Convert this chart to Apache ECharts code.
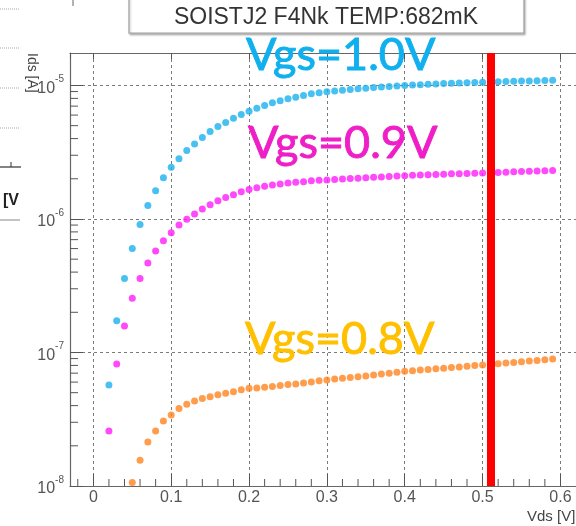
<!DOCTYPE html>
<html>
<head>
<meta charset="utf-8">
<script src="https://cdn.jsdelivr.net/npm/echarts@6.0.0/dist/echarts.min.js"></script>
<style>
  html, body { margin: 0; padding: 0; background: #fff; }
  #chart { width: 576px; height: 526px; }
</style>
</head>
<body>
<div id="chart"></div>
<script>
// Vds sweep [V]
const vds = [0.02, 0.03, 0.04, 0.05, 0.06, 0.07, 0.08, 0.09, 0.10,
  0.11, 0.12, 0.13, 0.14, 0.15, 0.16, 0.17, 0.18, 0.19, 0.20,
  0.21, 0.22, 0.23, 0.24, 0.25, 0.26, 0.27, 0.28, 0.29, 0.30,
  0.31, 0.32, 0.33, 0.34, 0.35, 0.36, 0.37, 0.38, 0.39, 0.40,
  0.41, 0.42, 0.43, 0.44, 0.45, 0.46, 0.47, 0.48, 0.49, 0.50,
  0.51, 0.52, 0.53, 0.54, 0.55, 0.56, 0.57, 0.58, 0.59]

// Ids [A] for each Vgs
const idsVgs10 = [5.7e-8, 1.73e-7, 3.58e-7, 6.0e-7, 9.1e-7, 1.26e-6, 1.63e-6, 2.04e-6, 2.44e-6,
  2.83e-6, 3.25e-6, 3.65e-6, 4.07e-6, 4.52e-6, 4.92e-6, 5.27e-6, 5.69e-6, 6.06e-6, 6.41e-6,
  6.76e-6, 7.08e-6, 7.41e-6, 7.67e-6, 7.94e-6, 8.17e-6, 8.41e-6, 8.67e-6, 8.82e-6, 8.98e-6,
  9.08e-6, 9.2e-6, 9.32e-6, 9.43e-6, 9.54e-6, 9.64e-6, 9.74e-6, 9.83e-6, 9.92e-6, 1.0e-5,
  1.007e-5, 1.014e-5, 1.02e-5, 1.026e-5, 1.032e-5, 1.038e-5, 1.043e-5, 1.048e-5, 1.053e-5, 1.058e-5,
  1.062e-5, 1.066e-5, 1.07e-5, 1.074e-5, 1.078e-5, 1.082e-5, 1.086e-5, 1.09e-5, 1.094e-5]

const idsVgs09 = [2.58e-8, 8.2e-8, 1.58e-7, 2.55e-7, 3.58e-7, 4.68e-7, 5.75e-7, 6.87e-7, 7.89e-7,
  9.0e-7, 9.93e-7, 1.09e-6, 1.19e-6, 1.28e-6, 1.37e-6, 1.45e-6, 1.52e-6, 1.60e-6, 1.66e-6,
  1.71e-6, 1.76e-6, 1.80e-6, 1.83e-6, 1.86e-6, 1.88e-6, 1.90e-6, 1.93e-6, 1.95e-6, 1.96e-6,
  1.972e-6, 1.989e-6, 2.006e-6, 2.02e-6, 2.034e-6, 2.052e-6, 2.066e-6, 2.08e-6, 2.095e-6, 2.11e-6,
  2.121e-6, 2.132e-6, 2.143e-6, 2.154e-6, 2.165e-6, 2.177e-6, 2.185e-6, 2.192e-6, 2.2e-6, 2.208e-6,
  2.219e-6, 2.231e-6, 2.242e-6, 2.254e-6, 2.265e-6, 2.277e-6, 2.289e-6, 2.297e-6, 2.305e-6]

const idsVgs08 = [null, null, null, 1.06e-8, 1.56e-8, 2.14e-8, 2.58e-8, 3.07e-8, 3.40e-8,
  3.8e-8, 4.09e-8, 4.34e-8, 4.52e-8, 4.67e-8, 4.83e-8, 4.95e-8, 5.07e-8, 5.25e-8, 5.4e-8,
  5.43e-8, 5.5e-8, 5.55e-8, 5.65e-8, 5.75e-8, 5.81e-8, 5.91e-8, 6.02e-8, 6.13e-8, 6.23e-8,
  6.33e-8, 6.41e-8, 6.5e-8, 6.58e-8, 6.67e-8, 6.79e-8, 6.89e-8, 6.99e-8, 7.11e-8, 7.24e-8,
  7.31e-8, 7.39e-8, 7.46e-8, 7.54e-8, 7.62e-8, 7.72e-8, 7.8e-8, 7.89e-8, 7.99e-8, 8.07e-8,
  8.15e-8, 8.24e-8, 8.33e-8, 8.43e-8, 8.53e-8, 8.62e-8, 8.72e-8, 8.83e-8, 8.92e-8]

const seriesNames = ['Vgs=1.0V', 'Vgs=0.9V', 'Vgs=0.8V']
const cutVds = 0.505

// axis ranges
const xMin = -0.03
const xMax = 0.62
const yMin = 1e-8
const yMax = 1.75e-5

// minor ticks (ROOT style)
const xMinorTicks = [-0.02, 0.02, 0.04, 0.06, 0.08, 0.12, 0.14, 0.16, 0.18, 0.22, 0.24, 0.26, 0.28,
  0.32, 0.34, 0.36, 0.38, 0.42, 0.44, 0.46, 0.48, 0.52, 0.54, 0.56, 0.58]
const yMinorTicks = []
for (let e = -8; e <= -5; e++) {
  for (let k = 2; k <= 9; k++) {
    const v = k * Math.pow(10, e)
    if (v < yMax) yMinorTicks.push(v)
  }
}

const chart = echarts.init(document.getElementById('chart'), null, { renderer: 'canvas' })

function pairs (ys) {
  const out = []
  ys.forEach((y, i) => {
    if (y !== null) out.push([vds[i], y])
  })
  return out
}

const gridLine = { color: '#7a7a7a', width: 1, type: [3, 3] }
const labelFont = 'Liberation Sans, Arial, sans-serif'
const vgsFont = 'Lato, "Open Sans", sans-serif'

function vgsText (x, y, text, color) {
  return {
    type: 'text',
    x: x,
    y: y,
    z: 10,
    style: {
      text: text,
      fontSize: 45,
      fontFamily: vgsFont,
      fill: color,
      stroke: color,
      lineWidth: 0.9,
      align: 'left',
      verticalAlign: 'middle'
    }
  }
}

const option = {
  animation: false,
  backgroundColor: '#fff',
  grid: { left: 70, top: 53, right: -6, bottom: 40, containLabel: false },
  xAxis: [
    {
      type: 'value',
      position: 'bottom',
      min: xMin,
      max: xMax,
      axisLine: { onZero: false, lineStyle: { color: '#666', width: 1.2 } },
      axisTick: { inside: true, length: 12, lineStyle: { color: '#555' } },
      axisLabel: {
        showMinLabel: false,
        showMaxLabel: false,
        margin: 4,
        fontSize: 16,
        color: '#555',
        fontFamily: labelFont,
        formatter: v => (Math.abs(v) < 1e-9 ? '0' : v.toFixed(1))
      },
      splitLine: { show: true, lineStyle: gridLine }
    },
    {
      type: 'value',
      position: 'top',
      min: xMin,
      max: xMax,
      axisLine: { onZero: false, lineStyle: { color: '#666', width: 1.2 } },
      axisTick: { inside: true, length: 6, lineStyle: { color: '#555' } },
      axisLabel: { show: false },
      splitLine: { show: false }
    }
  ],
  yAxis: {
    type: 'log',
    logBase: 10,
    min: yMin,
    max: yMax,
    axisLine: { show: true, onZero: false, lineStyle: { color: '#666', width: 1.2 } },
    axisTick: { show: true, inside: true, length: 13, lineStyle: { color: '#555' } },
    axisLabel: {
      showMaxLabel: false,
      margin: 6,
      formatter: v => '{b|10}{s|' + Math.round(Math.log10(v)) + '}',
      rich: {
        b: { fontSize: 16, color: '#555', fontFamily: labelFont, verticalAlign: 'bottom', padding: [6, 0, 0, 0] },
        s: { fontSize: 10, color: '#555', fontFamily: labelFont, verticalAlign: 'top' }
      }
    },
    splitLine: { show: true, lineStyle: gridLine }
  },
  series: [
    {
      name: 'yMinorTicks',
      type: 'custom',
      silent: true,
      z: 1,
      data: yMinorTicks.map(v => [xMin, v]),
      renderItem: (params, api) => {
        const p = api.coord([api.value(0), api.value(1)])
        return {
          type: 'line',
          shape: { x1: p[0], y1: p[1], x2: p[0] + 8, y2: p[1] },
          style: { stroke: '#555', lineWidth: 1 }
        }
      }
    },
    {
      name: 'xMinorTicks',
      type: 'custom',
      silent: true,
      z: 1,
      data: xMinorTicks.map(v => [v, yMin]),
      renderItem: (params, api) => {
        const p = api.coord([api.value(0), api.value(1)])
        return {
          type: 'line',
          shape: { x1: p[0], y1: p[1], x2: p[0], y2: p[1] - 7 },
          style: { stroke: '#555', lineWidth: 1 }
        }
      }
    },
    {
      name: seriesNames[0],
      type: 'scatter',
      symbolSize: 7,
      itemStyle: { color: '#1ab2ef' },
      data: pairs(idsVgs10),
      z: 3
    },
    {
      name: seriesNames[1],
      type: 'scatter',
      symbolSize: 7,
      itemStyle: { color: '#ff1dfa' },
      data: pairs(idsVgs09),
      z: 3
    },
    {
      name: seriesNames[2],
      type: 'scatter',
      symbolSize: 7,
      itemStyle: { color: '#ff8420' },
      data: pairs(idsVgs08),
      z: 3,
      markLine: {
        silent: true,
        symbol: 'none',
        label: { show: false },
        lineStyle: { color: '#ff0000', width: 8, type: 'solid' },
        data: [{ xAxis: cutVds }],
        z: 5
      }
    }
  ],
  graphic: [
    // title box
    {
      type: 'rect',
      shape: { x: 129, y: -4, width: 395, height: 37 },
      style: { fill: '#fff', stroke: '#a0a0a0', lineWidth: 1.2, shadowColor: 'rgba(0,0,0,0.25)', shadowOffsetY: 1.5, shadowOffsetX: 1, shadowBlur: 2 }
    },
    {
      type: 'text',
      x: 326,
      y: 18,
      style: { text: 'SOISTJ2 F4Nk TEMP:682mK', fontSize: 23, fontFamily: labelFont, fill: '#333', align: 'center', verticalAlign: 'middle' }
    },
    // axis titles
    {
      type: 'text',
      x: 32,
      y: 53,
      rotation: -Math.PI / 2,
      style: { text: 'Ids [A]', fontSize: 14, fontFamily: labelFont, fill: '#444', align: 'left', verticalAlign: 'middle' }
    },
    {
      type: 'text',
      x: 527,
      y: 517,
      style: { text: 'Vds [V]', fontSize: 15, fontFamily: labelFont, fill: '#444', align: 'left', verticalAlign: 'middle' }
    },
    // Vgs annotations
    vgsText(246, 55, seriesNames[0], '#10b0ee'),
    vgsText(248, 143, seriesNames[1], '#ee1fc6'),
    vgsText(245, 339, seriesNames[2], '#ffc000'),
    // leftover pieces of the neighbouring panel on the left edge
    { type: 'line', shape: { x1: 0, y1: 9, x2: 20, y2: 9 }, style: { stroke: '#aaa', lineWidth: 1, lineDash: [1, 1] } },
    { type: 'line', shape: { x1: 0, y1: 48, x2: 20, y2: 48 }, style: { stroke: '#aaa', lineWidth: 1, lineDash: [1, 1] } },
    { type: 'line', shape: { x1: 0, y1: 88, x2: 20, y2: 88 }, style: { stroke: '#aaa', lineWidth: 1, lineDash: [1, 1] } },
    { type: 'line', shape: { x1: 0, y1: 128, x2: 20, y2: 128 }, style: { stroke: '#aaa', lineWidth: 1, lineDash: [1, 1] } },
    { type: 'line', shape: { x1: 0, y1: 167, x2: 21, y2: 167 }, style: { stroke: '#333', lineWidth: 1.2 } },
    { type: 'line', shape: { x1: 11, y1: 162, x2: 11, y2: 167 }, style: { stroke: '#333', lineWidth: 1 } },
    { type: 'line', shape: { x1: 0, y1: 220, x2: 20, y2: 220 }, style: { stroke: '#888', lineWidth: 1 } },
    {
      type: 'text',
      x: 3,
      y: 201,
      style: { text: '[V', fontSize: 16, fontWeight: 'bold', fontFamily: labelFont, fill: '#222', align: 'left', verticalAlign: 'middle' }
    },
    { type: 'line', shape: { x1: 73, y1: 0, x2: 73, y2: 6 }, style: { stroke: '#666', lineWidth: 1 } }
  ]
}

chart.setOption(option)
</script>
</body>
</html>
